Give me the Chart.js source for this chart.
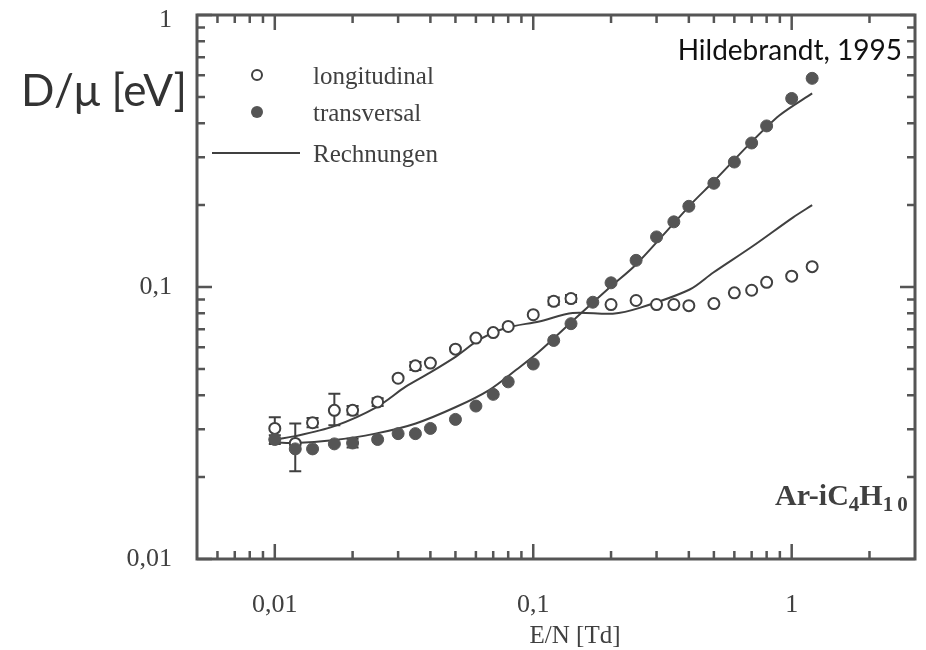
<!DOCTYPE html>
<html>
<head>
<meta charset="utf-8">
<script src="https://cdn.jsdelivr.net/npm/chart.js@4/dist/chart.umd.min.js"></script>
<style>
  html, body { margin: 0; padding: 0; background: #fff; }
  #wrap { width: 926px; height: 650px; }
</style>
</head>
<body>
<div id="wrap"><canvas id="chart" width="926" height="650"></canvas></div>
<script>
// E/N [Td] of the measured points
const eN = [0.01, 0.012, 0.014, 0.017, 0.02, 0.025, 0.03, 0.035, 0.04, 0.05, 0.06, 0.07, 0.08,
            0.1, 0.12, 0.14, 0.17, 0.2, 0.25, 0.3, 0.35, 0.4, 0.5, 0.6, 0.7, 0.8, 1.0, 1.2];
const longitudinal = [0.0302, 0.0266, 0.0317, 0.0352, 0.0352, 0.0378, 0.0462, 0.0513, 0.0525, 0.0591, 0.0649, 0.068, 0.0716,
                      0.0791, 0.0886, 0.0907, null, 0.0862, 0.0892, 0.0862, 0.0862, 0.0854, 0.0869, 0.0952, 0.0973, 0.104, 0.1096, 0.1188];
const transversal = [0.0275, 0.0254, 0.0254, 0.0265, 0.0267, 0.0275, 0.0289, 0.0289, 0.0302, 0.0326, 0.0365, 0.0403, 0.0448,
                     0.0521, 0.0636, 0.0733, 0.0879, 0.1036, 0.1253, 0.1528, 0.1736, 0.198, 0.2406, 0.288, 0.3384, 0.391, 0.4933, 0.585];

// error bars [x, low, high]
const longErrors = [[0.01, 0.0275, 0.0332], [0.012, 0.021, 0.0315], [0.014, 0.0305, 0.033], [0.017, 0.031, 0.0405],
                    [0.02, 0.034, 0.0365], [0.025, 0.0365, 0.039], [0.035, 0.0495, 0.053], [0.12, 0.086, 0.0915], [0.14, 0.088, 0.0935]];
const transErrors = [[0.01, 0.0265, 0.0285], [0.02, 0.0257, 0.0277]];

// Rechnungen (calculations)
const longCalcX = [0.0095, 0.012, 0.017, 0.0248, 0.0321, 0.0395, 0.0502, 0.0618, 0.0783, 0.1055, 0.142, 0.203, 0.258, 0.403, 0.496, 0.708, 1.01, 1.2];
const longCalcY = [0.0273, 0.0283, 0.0308, 0.0362, 0.043, 0.0482, 0.0555, 0.064, 0.0707, 0.0747, 0.0803, 0.0798, 0.0838, 0.0979, 0.1128, 0.1415, 0.18, 0.2];
const transCalcX = [0.0095, 0.012, 0.0167, 0.0245, 0.0351, 0.0502, 0.0675, 0.0857, 0.1055, 0.1508, 0.197, 0.25, 0.3467, 0.4143, 0.4955, 0.6875, 0.898, 1.2];
const transCalcY = [0.0269, 0.0267, 0.0273, 0.0289, 0.0315, 0.0362, 0.0418, 0.0495, 0.0579, 0.0791, 0.0993, 0.121, 0.17, 0.2048, 0.2427, 0.336, 0.428, 0.515];

// axes
const xMajor = [0.01, 0.1, 1];
const xMajorLabels = ['0,01', '0,1', '1'];
const xMinor = [0.006, 0.007, 0.008, 0.009, 0.02, 0.03, 0.04, 0.05, 0.06, 0.07, 0.08, 0.09,
                0.2, 0.3, 0.4, 0.5, 0.6, 0.7, 0.8, 0.9, 2];
const yMajor = [0.01, 0.1, 1];
const yMajorLabels = ['0,01', '0,1', '1'];
const yMinor = [0.02, 0.03, 0.04, 0.05, 0.06, 0.07, 0.08, 0.09, 0.2, 0.3, 0.4, 0.5, 0.6, 0.7, 0.8, 0.9];

const INK = '#404040';
const SERIF = '"Liberation Serif", "DejaVu Serif", serif';
const SANS = 'Lato, "Open Sans", sans-serif';

const pts = (xs, ys) => xs.map((x, i) => ({ x: x, y: ys[i] }));

const frameAndLabels = {
    id: 'frameAndLabels',
    beforeDatasetsDraw(chart) {
        const ctx = chart.ctx;
        const xs = chart.scales.x, ys = chart.scales.y;
        ctx.save();
        ctx.strokeStyle = INK;
        ctx.lineWidth = 2;
        const drawBars = (list) => list.forEach(([x, lo, hi]) => {
            const px = xs.getPixelForValue(x);
            const a = ys.getPixelForValue(lo), b = ys.getPixelForValue(hi);
            ctx.beginPath();
            ctx.moveTo(px, a); ctx.lineTo(px, b);
            ctx.moveTo(px - 6, a); ctx.lineTo(px + 6, a);
            ctx.moveTo(px - 6, b); ctx.lineTo(px + 6, b);
            ctx.stroke();
        });
        drawBars(longErrors);
        drawBars(transErrors);
        ctx.restore();
    },
    afterDraw(chart) {
        const ctx = chart.ctx;
        const a = chart.chartArea;
        const xs = chart.scales.x, ys = chart.scales.y;
        ctx.save();
        ctx.strokeStyle = '#555';
        ctx.fillStyle = INK;

        // frame
        ctx.lineWidth = 3;
        ctx.strokeRect(a.left, a.top, a.right - a.left, a.bottom - a.top);

        // inward ticks on all four sides
        ctx.lineWidth = 2.5;
        const xTick = (v, len) => {
            const px = xs.getPixelForValue(v);
            ctx.beginPath();
            ctx.moveTo(px, a.bottom); ctx.lineTo(px, a.bottom - len);
            ctx.moveTo(px, a.top); ctx.lineTo(px, a.top + len);
            ctx.stroke();
        };
        const yTick = (v, len) => {
            const py = ys.getPixelForValue(v);
            ctx.beginPath();
            ctx.moveTo(a.left, py); ctx.lineTo(a.left + len, py);
            ctx.moveTo(a.right, py); ctx.lineTo(a.right - len, py);
            ctx.stroke();
        };
        xMinor.forEach(v => xTick(v, 8));
        xMajor.forEach(v => xTick(v, 15));
        yMinor.forEach(v => yTick(v, 8));
        yMajor.forEach(v => yTick(v, 15));

        // tick labels
        ctx.font = '26px ' + SERIF;
        ctx.textAlign = 'center';
        ctx.textBaseline = 'middle';
        xMajor.forEach((v, i) => ctx.fillText(xMajorLabels[i], xs.getPixelForValue(v), 605));
        ctx.textAlign = 'right';
        yMajor.forEach((v, i) => ctx.fillText(yMajorLabels[i], 172, ys.getPixelForValue(v) + (v === 1 ? 5 : 0)));

        // axis titles
        ctx.textAlign = 'center';
        ctx.textBaseline = 'alphabetic';
        ctx.font = '25px ' + SERIF;
        ctx.fillText('E/N [Td]', 575, 643);
        ctx.fillStyle = '#333';
        ctx.textAlign = 'left';
        ctx.font = '44px ' + SANS;
        ctx.fillText('D/\u03bc [eV]', 21, 106);
        ctx.fillStyle = '#111';
        ctx.font = '28px ' + SANS;
        ctx.textAlign = 'right';
        ctx.fillText('Hildebrandt, 1995', 902, 60);

        // gas label
        ctx.fillStyle = INK;
        ctx.textAlign = 'left';
        let x = 775;
        const part = (t, size, dy) => {
            ctx.font = 'bold ' + size + 'px ' + SERIF;
            ctx.fillText(t, x, 505 + dy);
            x += ctx.measureText(t).width;
        };
        part('Ar-iC', 30, 0);
        part('4', 21, 6);
        part('H', 30, 0);
        part('1', 21, 6);
        x += 4;
        part('0', 21, 6);

        // legend
        ctx.font = '25px ' + SERIF;
        ctx.fillStyle = INK;
        ctx.fillText('longitudinal', 313, 84);
        ctx.fillText('transversal', 313, 121);
        ctx.fillText('Rechnungen', 313, 162);
        ctx.lineWidth = 2;
        ctx.strokeStyle = INK;
        ctx.beginPath();
        ctx.arc(257, 75, 5, 0, Math.PI * 2);
        ctx.stroke();
        ctx.fillStyle = '#555';
        ctx.beginPath();
        ctx.arc(257, 112, 6, 0, Math.PI * 2);
        ctx.fill();
        ctx.beginPath();
        ctx.moveTo(212, 153); ctx.lineTo(300, 153);
        ctx.stroke();
        ctx.restore();
    }
};

new Chart(document.getElementById('chart'), {
    type: 'scatter',
    data: {
        datasets: [
            {
                label: 'transversal',
                data: pts(eN, transversal),
                pointRadius: 6,
                pointBackgroundColor: '#555',
                pointBorderColor: '#555',
                pointBorderWidth: 1,
                order: 1
            },
            {
                label: 'longitudinal',
                data: pts(eN, longitudinal),
                pointRadius: 5.5,
                pointBackgroundColor: '#fff',
                pointBorderColor: INK,
                pointBorderWidth: 2,
                order: 2
            },
            {
                type: 'line',
                label: 'Rechnungen',
                data: pts(longCalcX, longCalcY),
                borderColor: INK,
                borderWidth: 2,
                pointRadius: 0,
                tension: 0.3,
                fill: false,
                order: 3
            },
            {
                type: 'line',
                label: 'Rechnungen',
                data: pts(transCalcX, transCalcY),
                borderColor: INK,
                borderWidth: 2,
                pointRadius: 0,
                tension: 0.3,
                fill: false,
                order: 3
            }
        ]
    },
    options: {
        responsive: false,
        animation: false,
        layout: { padding: { left: 197, top: 15, right: 11, bottom: 91 } },
        plugins: {
            legend: { display: false },
            tooltip: { enabled: false }
        },
        scales: {
            x: { type: 'logarithmic', min: 0.005, max: 3, display: false },
            y: { type: 'logarithmic', min: 0.01, max: 1, display: false }
        }
    },
    plugins: [frameAndLabels]
});
</script>
</body>
</html>
